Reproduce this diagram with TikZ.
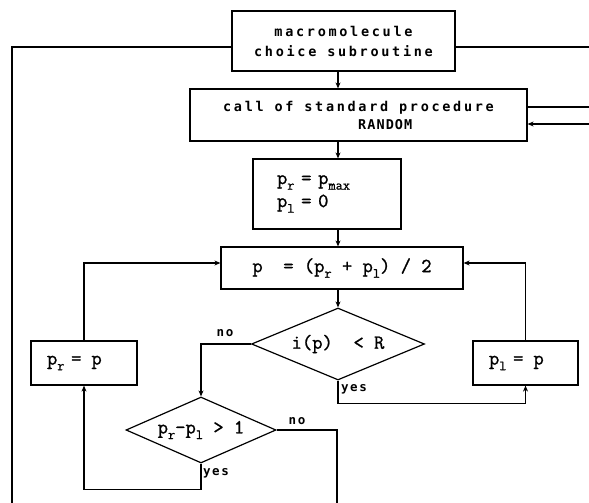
\documentclass[tikz,border=0pt]{standalone}
\usepackage{fontspec}
\usetikzlibrary{shapes.geometric,arrows.meta}
\newfontfamily\wordfont[LetterSpace=20]{DejaVu Sans Mono}
\newfontfamily\randfont[LetterSpace=8]{DejaVu Sans Mono}
\newfontfamily\ynfont[LetterSpace=12]{DejaVu Sans Mono}
\newfontfamily\formfont[FakeBold=1.2]{Latin Modern Mono}
\newcommand\subs[1]{\raisebox{-0.28em}{\fontsize{14}{14}\selectfont #1}}
\begin{document}
\begin{tikzpicture}[x=1pt,y=-1pt,
  line/.style={line width=1.2pt},
  arr/.style={line, -{Stealth[length=6pt,width=5pt]}},
  box/.style={draw, line width=1.2pt, rectangle, inner sep=0pt},
  dia/.style={draw, line width=1.2pt, diamond, inner sep=0pt},
  word/.style={font=\wordfont\bfseries\fontsize{13.5}{20}\selectfont},
  form/.style={font=\formfont\fontsize{20}{23}\selectfont},
  yn/.style={font=\ynfont\bfseries\fontsize{12.5}{13}\selectfont, inner sep=0pt}]
\useasboundingbox (0,0) rectangle (589,503);

\node[box, word, minimum width=223pt, minimum height=60pt, align=center] (top) at (343.5,41) {macromolecule\\choice subroutine};
\node[box, word, font=\wordfont\bfseries\fontsize{13.5}{18}\selectfont, minimum width=337pt, minimum height=52pt, align=left] (rnd) at (358.5,115) {call of standard procedure\\\hspace*{135pt}{\randfont\bfseries RANDOM}};
\node[box, form, minimum width=148pt, minimum height=70pt, text width=100pt, inner xsep=24pt, align=left] (init) at (327,194) {p\subs{r} = p\subs{max}\\p\subs{l} = 0};
\node[box, form, minimum width=242pt, minimum height=42pt] (mid) at (342,268) {p\ \ = (p\subs{r} + p\subs{l}) / 2};
\node[dia, form, minimum width=173pt, minimum height=72pt, shape aspect=2.4] (d1) at (338,344) {i(p)\ \ < R};
\node[dia, form, minimum width=150pt, minimum height=66pt, shape aspect=2.27] (d2) at (201,430) {p\subs{r}-p\subs{l} > 1};
\node[box, form, minimum width=106pt, minimum height=44pt, text width=74pt, inner xsep=16pt, align=left] (pr) at (84,363) {p\subs{r} = \,p};
\node[box, form, minimum width=105pt, minimum height=44pt, text width=73pt, inner xsep=16pt, align=left] (pl) at (525.5,363) {p\subs{l} = \,p};

\coordinate (lbot) at (12,503);
\coordinate (redge) at (589,0);
\coordinate (nbot) at (337,503);

\draw[line] ([yshift=-6pt]top.west) -| (lbot);
\draw[line] ([yshift=-6pt]top.east) -- ([yshift=-6pt]top.east -| redge);
\draw[arr] (top.south -| d1.north) -- (rnd.north -| d1.north);
\draw[arr] (rnd.south -| d1.north) -- (init.north -| d1.north);
\draw[arr] (init.south -| d1.north) -- (mid.north -| d1.north);
\draw[arr] (mid.south -| d1.north) -- (d1.north);
\draw[line] ([yshift=8pt]rnd.east) -- ([yshift=8pt]rnd.east -| redge);
\draw[arr] ([yshift=-9pt]rnd.east -| redge) -- ([yshift=-9pt]rnd.east);
\draw[arr] (pr.north) |- ([yshift=5pt]mid.west);
\draw[arr] (pl.north) |- ([yshift=5pt]mid.east);
\draw[arr] (d1.south) -- ++(0,23) -| (pl.south);
\draw[arr] (d1.west) -| (d2.north);
\draw[arr] (d2.south) -- ++(0,26) -| (pr.south);
\draw[line] (d2.east) -| (nbot);

\node[yn] (no1) at (225,333) {no};
\node[yn, anchor=west] (yes1) at (341,389) {yes};
\node[yn] (no2) at (297,421) {no};
\node[yn, anchor=west] (yes2) at (203,473) {yes};
\end{tikzpicture}
\end{document}
